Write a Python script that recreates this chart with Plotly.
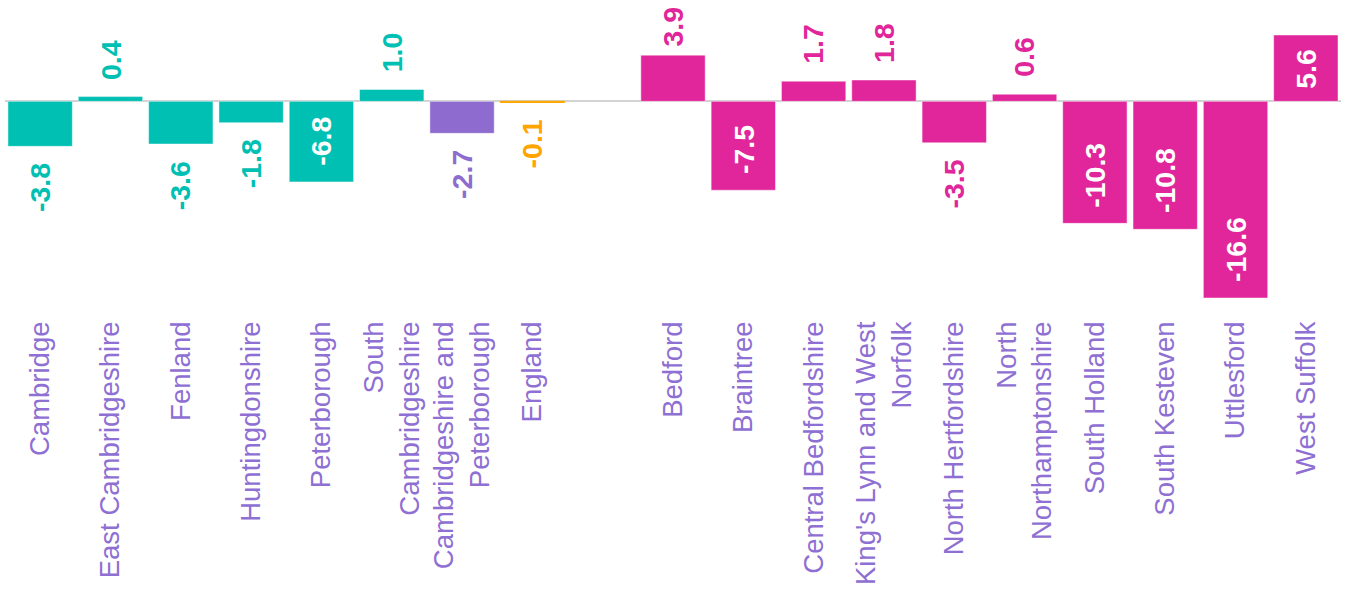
import plotly.graph_objects as go

# Cambridgeshire & Peterborough districts, the combined area and England
cp_areas = ["Cambridge", "East Cambridgeshire", "Fenland", "Huntingdonshire",
            "Peterborough", "South<br>Cambridgeshire",
            "Cambridgeshire and<br>Peterborough", "England"]
cp_values = [-3.8, 0.4, -3.6, -1.8, -6.8, 1.0, -2.7, -0.1]

# Comparator districts
comp_areas = ["Bedford", "Braintree", "Central Bedfordshire",
              "King's Lynn and West<br>Norfolk", "North Hertfordshire",
              "North<br>Northamptonshire", "South Holland", "South Kesteven",
              "Uttlesford", "West Suffolk"]
comp_values = [3.9, -7.5, 1.7, 1.8, -3.5, 0.6, -10.3, -10.8, -16.6, 5.6]

TEAL = "#00BFB3"
PURPLE = "#8E6CCF"
ORANGE = "#FFA500"
MAGENTA = "#E0269A"
LABEL = "#8E6FD3"
FONT = "Liberation Sans, Arial, sans-serif"

cp_colors = [TEAL] * 6 + [PURPLE, ORANGE]
comp_colors = [MAGENTA] * len(comp_areas)

# a blank slot separates the two groups
gap = " "
x = cp_areas + [gap] + comp_areas
y = cp_values + [None] + comp_values
colors = cp_colors + ["rgba(0,0,0,0)"] + comp_colors
edge = ["rgba(255,255,255,0.45)"] * len(x)
edge[x.index("England")] = ORANGE

# layout geometry (pixels)
W, H = 1346, 592
M_TOP, M_BOT = 35, 294
PLOT_H = H - M_TOP - M_BOT
vals = [v for v in y if v is not None]
y_lo, y_hi = min(vals), max(vals)
px_per_unit = PLOT_H / (y_hi - y_lo)

VAL_SIZE = 28.5
CHAR_W = {"-": 0.333, ".": 0.278}


def label_len(s):
    return sum(CHAR_W.get(c, 0.556) for c in s) * VAL_SIZE


fig = go.Figure()
fig.add_trace(go.Bar(
    x=x, y=y,
    marker=dict(color=colors, line=dict(color=edge, width=1)),
    hoverinfo="x+y",
))

# value labels: inside (white) on long bars, outside in the bar colour otherwise
INSIDE_MIN = 5.5
OUT_GAP = 15
TOP_LIMIT = 9
for cat, val, col in zip(x, y, colors):
    if val is None:
        continue
    text = f"{val:.1f}"
    if abs(val) >= INSIDE_MIN:
        anchor = "bottom" if val < 0 else "top"
        shift = 14 if val < 0 else -12
        fcol = "white"
    else:
        anchor = "top" if val < 0 else "bottom"
        fcol = col
        if val < 0:
            shift = -OUT_GAP
        else:
            bar_top = M_TOP + (y_hi - val) * px_per_unit
            room = bar_top - TOP_LIMIT - label_len(text)
            shift = max(0, min(OUT_GAP, room))
    fig.add_annotation(
        x=cat, y=val, text=f"<b>{text}</b>", showarrow=False,
        textangle=-90, yanchor=anchor, xanchor="center", yshift=shift,
        font=dict(family=FONT, size=VAL_SIZE, color=fcol),
    )

fig.update_layout(
    width=W, height=H,
    margin=dict(l=5, r=5, t=M_TOP, b=M_BOT),
    plot_bgcolor="white", paper_bgcolor="white",
    bargap=0.085,
    showlegend=False,
    font=dict(family=FONT),
)
fig.update_xaxes(
    type="category", tickangle=-90, showgrid=False, showline=False,
    ticks="", ticklabelstandoff=17,
    tickfont=dict(family=FONT, size=27.5, color=LABEL),
)
fig.update_yaxes(
    range=[y_lo, y_hi],
    showgrid=False, showticklabels=False, zeroline=True,
    zerolinecolor="#D3D3D3", zerolinewidth=2,
)

fig.write_html("out.html")
